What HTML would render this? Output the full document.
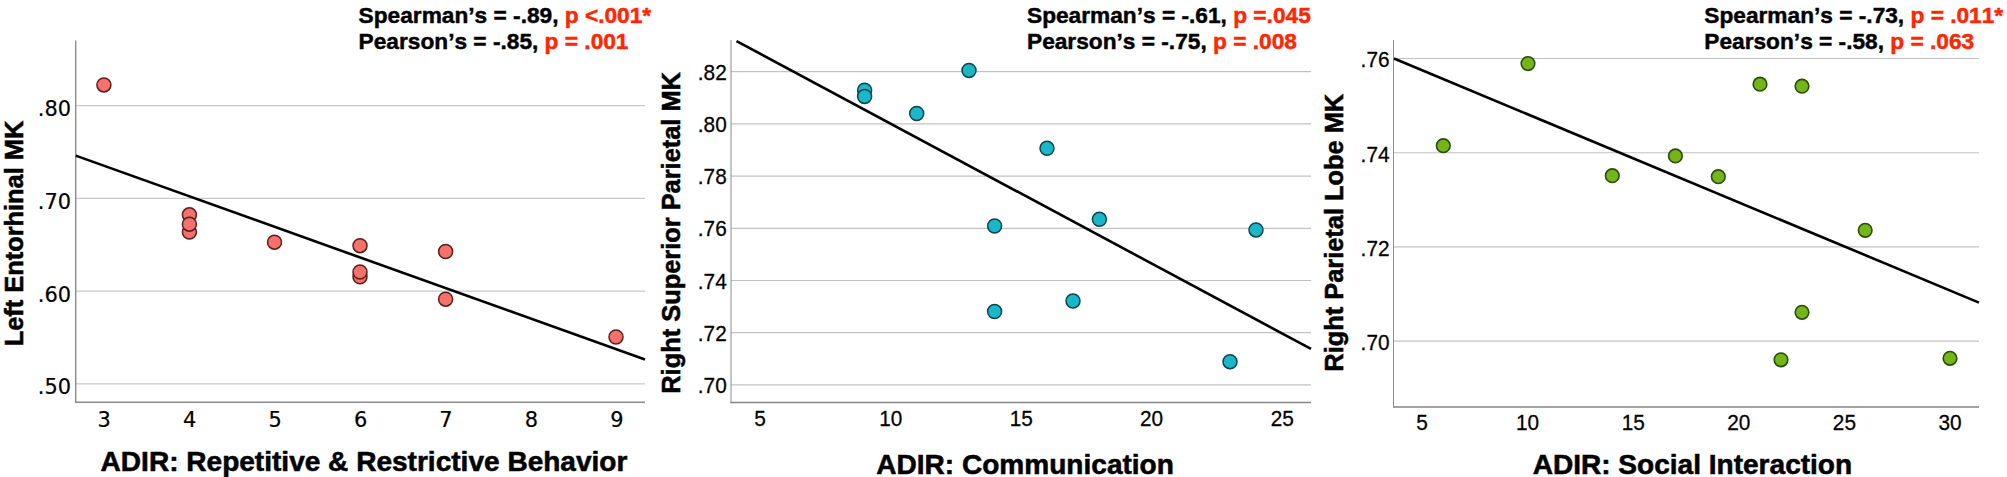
<!DOCTYPE html>
<html lang="en"><head><meta charset="utf-8"><title>ADIR vs MK scatter plots</title>
<style>html,body{margin:0;padding:0;background:#fff;}svg{display:block;}.hd{font-family:"Liberation Sans",sans-serif;font-weight:700;font-size:22.7px;fill:#000;stroke:#000;stroke-width:0.45px;font-kerning:none;}.red{fill:#ff2600;stroke:#ff2600;}.ttl{font-family:"Liberation Sans",sans-serif;font-weight:700;font-size:28.05px;fill:#000;stroke:#000;stroke-width:0.55px;}.tk{fill:#000;}</style></head><body>
<svg width="2007" height="477" viewBox="0 0 2007 477">
<rect width="2007" height="477" fill="#fff"/>
<g>
<line x1="75.7" y1="105.6" x2="645" y2="105.6" stroke="#c9c9c9" stroke-width="1.3"/>
<line x1="75.7" y1="198.4" x2="645" y2="198.4" stroke="#c9c9c9" stroke-width="1.3"/>
<line x1="75.7" y1="291.1" x2="645" y2="291.1" stroke="#c9c9c9" stroke-width="1.3"/>
<line x1="75.7" y1="383.9" x2="645" y2="383.9" stroke="#c9c9c9" stroke-width="1.3"/>
<line x1="75.7" y1="40.5" x2="75.7" y2="403.0" stroke="#8c8c8c" stroke-width="1.4"/>
<line x1="75.0" y1="402.2" x2="645" y2="402.2" stroke="#8c8c8c" stroke-width="1.6"/>
<text class="tk" transform="translate(71.1 116.0) scale(1 1)" text-anchor="end" style="font-family:'DejaVu Sans', sans-serif;font-size:20.9px;stroke:#000;stroke-width:0.2px">.80</text>
<text class="tk" transform="translate(71.1 208.8) scale(1 1)" text-anchor="end" style="font-family:'DejaVu Sans', sans-serif;font-size:20.9px;stroke:#000;stroke-width:0.2px">.70</text>
<text class="tk" transform="translate(71.1 301.5) scale(1 1)" text-anchor="end" style="font-family:'DejaVu Sans', sans-serif;font-size:20.9px;stroke:#000;stroke-width:0.2px">.60</text>
<text class="tk" transform="translate(71.1 394.3) scale(1 1)" text-anchor="end" style="font-family:'DejaVu Sans', sans-serif;font-size:20.9px;stroke:#000;stroke-width:0.2px">.50</text>
<text class="tk" transform="translate(104.1 426.7) scale(1 1)" text-anchor="middle" style="font-family:'DejaVu Sans', sans-serif;font-size:20.9px;stroke:#000;stroke-width:0.2px">3</text>
<text class="tk" transform="translate(189.6 426.7) scale(1 1)" text-anchor="middle" style="font-family:'DejaVu Sans', sans-serif;font-size:20.9px;stroke:#000;stroke-width:0.2px">4</text>
<text class="tk" transform="translate(275.1 426.7) scale(1 1)" text-anchor="middle" style="font-family:'DejaVu Sans', sans-serif;font-size:20.9px;stroke:#000;stroke-width:0.2px">5</text>
<text class="tk" transform="translate(360.6 426.7) scale(1 1)" text-anchor="middle" style="font-family:'DejaVu Sans', sans-serif;font-size:20.9px;stroke:#000;stroke-width:0.2px">6</text>
<text class="tk" transform="translate(446.0 426.7) scale(1 1)" text-anchor="middle" style="font-family:'DejaVu Sans', sans-serif;font-size:20.9px;stroke:#000;stroke-width:0.2px">7</text>
<text class="tk" transform="translate(531.5 426.7) scale(1 1)" text-anchor="middle" style="font-family:'DejaVu Sans', sans-serif;font-size:20.9px;stroke:#000;stroke-width:0.2px">8</text>
<text class="tk" transform="translate(616.8 426.7) scale(1 1)" text-anchor="middle" style="font-family:'DejaVu Sans', sans-serif;font-size:20.9px;stroke:#000;stroke-width:0.2px">9</text>
<line x1="75.7" y1="155.6" x2="645" y2="359.5" stroke="#000" stroke-width="2.6"/>
<circle cx="103.9" cy="84.9" r="7.0" fill="#f5726c" stroke="#5a1e1a" stroke-width="1.5"/>
<circle cx="189.4" cy="214.8" r="7.0" fill="#f5726c" stroke="#5a1e1a" stroke-width="1.5"/>
<circle cx="189.4" cy="232.1" r="7.0" fill="#f5726c" stroke="#5a1e1a" stroke-width="1.5"/>
<circle cx="189.4" cy="224.2" r="7.0" fill="#f5726c" stroke="#5a1e1a" stroke-width="1.5"/>
<circle cx="274.5" cy="242.2" r="7.0" fill="#f5726c" stroke="#5a1e1a" stroke-width="1.5"/>
<circle cx="360" cy="245.7" r="7.0" fill="#f5726c" stroke="#5a1e1a" stroke-width="1.5"/>
<circle cx="360" cy="276.8" r="7.0" fill="#f5726c" stroke="#5a1e1a" stroke-width="1.5"/>
<circle cx="360" cy="272" r="7.0" fill="#f5726c" stroke="#5a1e1a" stroke-width="1.5"/>
<circle cx="445.6" cy="251.5" r="7.0" fill="#f5726c" stroke="#5a1e1a" stroke-width="1.5"/>
<circle cx="445.6" cy="299.2" r="7.0" fill="#f5726c" stroke="#5a1e1a" stroke-width="1.5"/>
<circle cx="616" cy="337" r="7.0" fill="#f5726c" stroke="#5a1e1a" stroke-width="1.5"/>
<text class="ttl" transform="translate(23.0 233.5) rotate(-90)" text-anchor="middle" style="font-size:25.4px">Left Entorhinal MK</text>
<text class="ttl" x="364" y="471.2" text-anchor="middle">ADIR: Repetitive &amp; Restrictive Behavior</text>
<text class="hd" x="358.6" y="23">Spearman’s = -.89, <tspan class="red">p <.001*</tspan></text>
<text class="hd" x="358.6" y="48.6">Pearson’s = -.85, <tspan class="red">p = .001</tspan></text>
</g>
<g>
<line x1="731.0" y1="71.7" x2="1311" y2="71.7" stroke="#c2c2c2" stroke-width="1.2"/>
<line x1="731.0" y1="123.9" x2="1311" y2="123.9" stroke="#c2c2c2" stroke-width="1.2"/>
<line x1="731.0" y1="176.1" x2="1311" y2="176.1" stroke="#c2c2c2" stroke-width="1.2"/>
<line x1="731.0" y1="228.3" x2="1311" y2="228.3" stroke="#c2c2c2" stroke-width="1.2"/>
<line x1="731.0" y1="280.5" x2="1311" y2="280.5" stroke="#c2c2c2" stroke-width="1.2"/>
<line x1="731.0" y1="332.7" x2="1311" y2="332.7" stroke="#c2c2c2" stroke-width="1.2"/>
<line x1="731.0" y1="384.8" x2="1311" y2="384.8" stroke="#c2c2c2" stroke-width="1.2"/>
<line x1="731.0" y1="40" x2="731.0" y2="403.18" stroke="#868686" stroke-width="0.95"/>
<line x1="730.52" y1="402.5" x2="1311" y2="402.5" stroke="#868686" stroke-width="1.35"/>
<text class="tk" transform="translate(726.7 79.7) scale(1 1.08)" text-anchor="end" style="font-family:'Liberation Sans', sans-serif;font-size:20.8px;stroke:#000;stroke-width:0.25px">.82</text>
<text class="tk" transform="translate(726.7 131.9) scale(1 1.08)" text-anchor="end" style="font-family:'Liberation Sans', sans-serif;font-size:20.8px;stroke:#000;stroke-width:0.25px">.80</text>
<text class="tk" transform="translate(726.7 184.1) scale(1 1.08)" text-anchor="end" style="font-family:'Liberation Sans', sans-serif;font-size:20.8px;stroke:#000;stroke-width:0.25px">.78</text>
<text class="tk" transform="translate(726.7 236.3) scale(1 1.08)" text-anchor="end" style="font-family:'Liberation Sans', sans-serif;font-size:20.8px;stroke:#000;stroke-width:0.25px">.76</text>
<text class="tk" transform="translate(726.7 288.5) scale(1 1.08)" text-anchor="end" style="font-family:'Liberation Sans', sans-serif;font-size:20.8px;stroke:#000;stroke-width:0.25px">.74</text>
<text class="tk" transform="translate(726.7 340.7) scale(1 1.08)" text-anchor="end" style="font-family:'Liberation Sans', sans-serif;font-size:20.8px;stroke:#000;stroke-width:0.25px">.72</text>
<text class="tk" transform="translate(726.7 392.8) scale(1 1.08)" text-anchor="end" style="font-family:'Liberation Sans', sans-serif;font-size:20.8px;stroke:#000;stroke-width:0.25px">.70</text>
<text class="tk" transform="translate(760.0 426.0) scale(1 1.08)" text-anchor="middle" style="font-family:'Liberation Sans', sans-serif;font-size:20.8px;stroke:#000;stroke-width:0.25px">5</text>
<text class="tk" transform="translate(890.8 426.0) scale(1 1.08)" text-anchor="middle" style="font-family:'Liberation Sans', sans-serif;font-size:20.8px;stroke:#000;stroke-width:0.25px">10</text>
<text class="tk" transform="translate(1021.2 426.0) scale(1 1.08)" text-anchor="middle" style="font-family:'Liberation Sans', sans-serif;font-size:20.8px;stroke:#000;stroke-width:0.25px">15</text>
<text class="tk" transform="translate(1151.6 426.0) scale(1 1.08)" text-anchor="middle" style="font-family:'Liberation Sans', sans-serif;font-size:20.8px;stroke:#000;stroke-width:0.25px">20</text>
<text class="tk" transform="translate(1282.2 426.0) scale(1 1.08)" text-anchor="middle" style="font-family:'Liberation Sans', sans-serif;font-size:20.8px;stroke:#000;stroke-width:0.25px">25</text>
<line x1="736.5" y1="41.1" x2="1311" y2="348.9" stroke="#000" stroke-width="2.6"/>
<circle cx="864.6" cy="90.2" r="7.0" fill="#19b7c7" stroke="#0c4450" stroke-width="1.5"/>
<circle cx="864.6" cy="96.4" r="7.0" fill="#19b7c7" stroke="#0c4450" stroke-width="1.5"/>
<circle cx="916.7" cy="113.5" r="7.0" fill="#19b7c7" stroke="#0c4450" stroke-width="1.5"/>
<circle cx="969" cy="70.4" r="7.0" fill="#19b7c7" stroke="#0c4450" stroke-width="1.5"/>
<circle cx="1047" cy="148.3" r="7.0" fill="#19b7c7" stroke="#0c4450" stroke-width="1.5"/>
<circle cx="994.6" cy="226" r="7.0" fill="#19b7c7" stroke="#0c4450" stroke-width="1.5"/>
<circle cx="1099.4" cy="219.3" r="7.0" fill="#19b7c7" stroke="#0c4450" stroke-width="1.5"/>
<circle cx="994.6" cy="311.5" r="7.0" fill="#19b7c7" stroke="#0c4450" stroke-width="1.5"/>
<circle cx="1073" cy="301" r="7.0" fill="#19b7c7" stroke="#0c4450" stroke-width="1.5"/>
<circle cx="1230" cy="361.7" r="7.0" fill="#19b7c7" stroke="#0c4450" stroke-width="1.5"/>
<circle cx="1256" cy="229.9" r="7.0" fill="#19b7c7" stroke="#0c4450" stroke-width="1.5"/>
<text class="ttl" transform="translate(680 232.9) rotate(-90)" text-anchor="middle" style="font-size:25.4px">Right Superior Parietal MK</text>
<text class="ttl" x="1025.1" y="473.7" text-anchor="middle">ADIR: Communication</text>
<text class="hd" x="1027" y="23">Spearman’s = -.61, <tspan class="red">p =.045</tspan></text>
<text class="hd" x="1027" y="48.6">Pearson’s = -.75, <tspan class="red">p = .008</tspan></text>
</g>
<g>
<line x1="1393.5" y1="58.5" x2="1979" y2="58.5" stroke="#c2c2c2" stroke-width="1.15"/>
<line x1="1393.5" y1="152.7" x2="1979" y2="152.7" stroke="#c2c2c2" stroke-width="1.15"/>
<line x1="1393.5" y1="246.9" x2="1979" y2="246.9" stroke="#c2c2c2" stroke-width="1.15"/>
<line x1="1393.5" y1="341.1" x2="1979" y2="341.1" stroke="#c2c2c2" stroke-width="1.15"/>
<line x1="1393.5" y1="40" x2="1393.5" y2="407.65" stroke="#868686" stroke-width="0.9"/>
<line x1="1393.05" y1="407.0" x2="1979" y2="407.0" stroke="#868686" stroke-width="1.3"/>
<text class="tk" transform="translate(1389.5 67.4) scale(1 1.08)" text-anchor="end" style="font-family:'Liberation Sans', sans-serif;font-size:20.8px;stroke:#000;stroke-width:0.25px">.76</text>
<text class="tk" transform="translate(1389.5 161.6) scale(1 1.08)" text-anchor="end" style="font-family:'Liberation Sans', sans-serif;font-size:20.8px;stroke:#000;stroke-width:0.25px">.74</text>
<text class="tk" transform="translate(1389.5 255.8) scale(1 1.08)" text-anchor="end" style="font-family:'Liberation Sans', sans-serif;font-size:20.8px;stroke:#000;stroke-width:0.25px">.72</text>
<text class="tk" transform="translate(1389.5 350.0) scale(1 1.08)" text-anchor="end" style="font-family:'Liberation Sans', sans-serif;font-size:20.8px;stroke:#000;stroke-width:0.25px">.70</text>
<text class="tk" transform="translate(1422 430.0) scale(1 1.08)" text-anchor="middle" style="font-family:'Liberation Sans', sans-serif;font-size:20.8px;stroke:#000;stroke-width:0.25px">5</text>
<text class="tk" transform="translate(1527.6 430.0) scale(1 1.08)" text-anchor="middle" style="font-family:'Liberation Sans', sans-serif;font-size:20.8px;stroke:#000;stroke-width:0.25px">10</text>
<text class="tk" transform="translate(1633.2 430.0) scale(1 1.08)" text-anchor="middle" style="font-family:'Liberation Sans', sans-serif;font-size:20.8px;stroke:#000;stroke-width:0.25px">15</text>
<text class="tk" transform="translate(1738.8 430.0) scale(1 1.08)" text-anchor="middle" style="font-family:'Liberation Sans', sans-serif;font-size:20.8px;stroke:#000;stroke-width:0.25px">20</text>
<text class="tk" transform="translate(1844.4 430.0) scale(1 1.08)" text-anchor="middle" style="font-family:'Liberation Sans', sans-serif;font-size:20.8px;stroke:#000;stroke-width:0.25px">25</text>
<text class="tk" transform="translate(1950 430.0) scale(1 1.08)" text-anchor="middle" style="font-family:'Liberation Sans', sans-serif;font-size:20.8px;stroke:#000;stroke-width:0.25px">30</text>
<line x1="1394" y1="58.5" x2="1979" y2="302.6" stroke="#000" stroke-width="2.6"/>
<circle cx="1443.3" cy="145.7" r="6.8" fill="#72b61a" stroke="#2c4a08" stroke-width="1.6"/>
<circle cx="1528" cy="63.6" r="6.8" fill="#72b61a" stroke="#2c4a08" stroke-width="1.6"/>
<circle cx="1612.3" cy="175.7" r="6.8" fill="#72b61a" stroke="#2c4a08" stroke-width="1.6"/>
<circle cx="1675.4" cy="155.9" r="6.8" fill="#72b61a" stroke="#2c4a08" stroke-width="1.6"/>
<circle cx="1718.3" cy="176.7" r="6.8" fill="#72b61a" stroke="#2c4a08" stroke-width="1.6"/>
<circle cx="1760" cy="84.2" r="6.8" fill="#72b61a" stroke="#2c4a08" stroke-width="1.6"/>
<circle cx="1802" cy="86.2" r="6.8" fill="#72b61a" stroke="#2c4a08" stroke-width="1.6"/>
<circle cx="1865.2" cy="230.3" r="6.8" fill="#72b61a" stroke="#2c4a08" stroke-width="1.6"/>
<circle cx="1802" cy="312.3" r="6.8" fill="#72b61a" stroke="#2c4a08" stroke-width="1.6"/>
<circle cx="1781" cy="359.8" r="6.8" fill="#72b61a" stroke="#2c4a08" stroke-width="1.6"/>
<circle cx="1950" cy="358.3" r="6.8" fill="#72b61a" stroke="#2c4a08" stroke-width="1.6"/>
<text class="ttl" transform="translate(1343 232.75) rotate(-90)" text-anchor="middle" style="font-size:25.4px">Right Parietal Lobe MK</text>
<text class="ttl" x="1692.4" y="473.7" text-anchor="middle">ADIR: Social Interaction</text>
<text class="hd" x="1704.3" y="23">Spearman’s = -.73, <tspan class="red">p = .011*</tspan></text>
<text class="hd" x="1704.3" y="48.6">Pearson’s = -.58, <tspan class="red">p = .063</tspan></text>
</g>
</svg></body></html>
